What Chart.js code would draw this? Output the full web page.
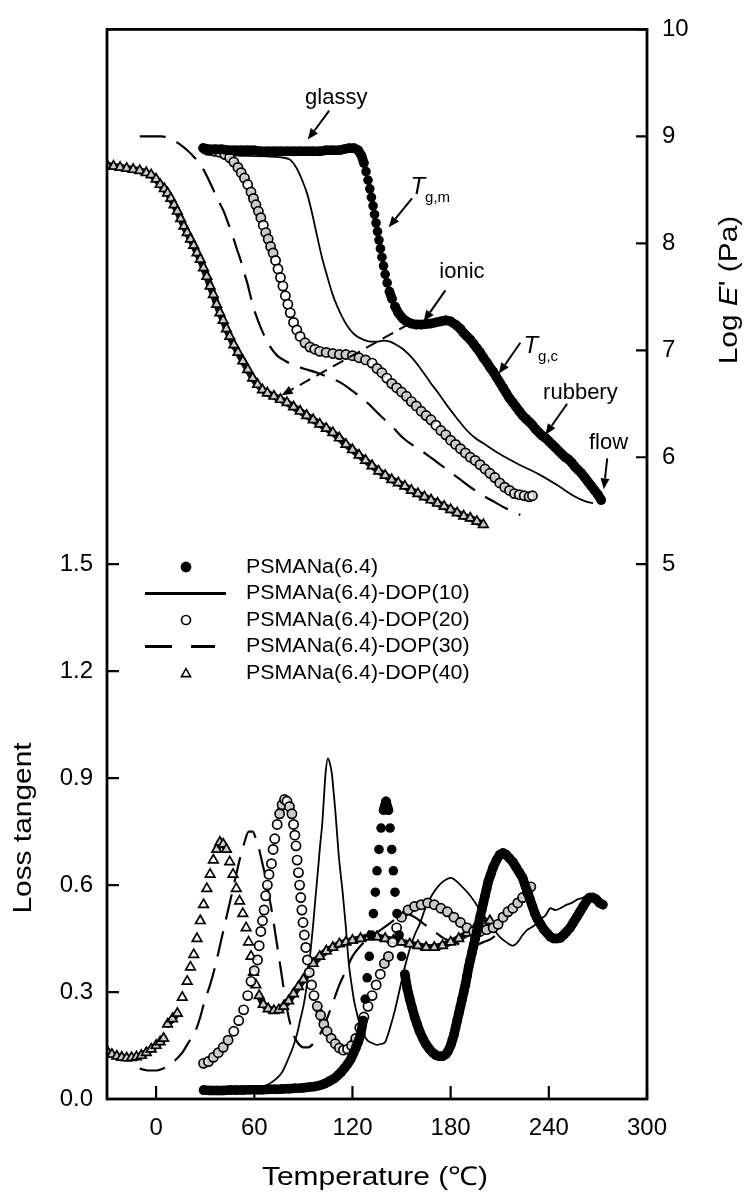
<!DOCTYPE html>
<html>
<head>
<meta charset="utf-8">
<script src="https://cdn.jsdelivr.net/npm/chart.js@4.4.0/dist/chart.umd.min.js"></script>
<style>
  html, body { margin: 0; padding: 0; background: #fff; }
  #wrap { position: relative; width: 745px; height: 1195px; }
</style>
</head>
<body>
<div id="wrap"><canvas id="dma"></canvas></div>
<script>
// samples, in legend order
const seriesNames = [
  "PSMANa(6.4)",
  "PSMANa(6.4)-DOP(10)",
  "PSMANa(6.4)-DOP(20)",
  "PSMANa(6.4)-DOP(30)",
  "PSMANa(6.4)-DOP(40)"
];

const tempTicks = [0, 60, 120, 180, 240, 300];
const tanTicks = [0, 0.3, 0.6, 0.9, 1.2, 1.5];
const modTicks = [5, 6, 7, 8, 9, 10];

// storage modulus: [temperature (°C), log E' (Pa)]
const modNeat = [[28.7,8.89],[32,8.88],[36,8.88],[40,8.88],[44,8.87],[48,8.87],[52,8.87],[56,8.87],[60,8.87],[64,8.86],[68,8.86],[72,8.86],[76,8.86],[80,8.86],[84,8.86],[88,8.86],[92,8.86],[96,8.86],[100,8.86],[104,8.87],[108,8.87],[112,8.87],[115,8.88],[118,8.89],[121,8.89],[123.5,8.87],[125.5,8.82],[127,8.75],[128.3,8.67],[129.5,8.59],[130.6,8.51],[131.6,8.43],[132.6,8.35],[133.5,8.27],[134.4,8.19],[135.3,8.11],[136.2,8.03],[137.1,7.95],[138,7.87],[139,7.79],[140,7.71],[141.2,7.63],[142.6,7.55],[144.2,7.48],[146,7.41],[148,7.35],[150.5,7.30],[153,7.27],[156,7.25],[159,7.24],[162,7.24],[165,7.245],[168,7.25],[171,7.26],[174,7.27],[177,7.28],[180,7.27],[183,7.24],[186,7.20],[188,7.16],[190,7.13],[192,7.10],[194,7.06],[196,7.02],[198,6.98],[200,6.93],[202,6.89],[204,6.84],[206,6.80],[208,6.75],[210,6.70],[212,6.65],[214,6.60],[216,6.55],[218,6.51],[220,6.47],[222,6.43],[224,6.39],[226,6.36],[228,6.33],[230,6.30],[232,6.26],[234,6.23],[236,6.20],[238,6.18],[240,6.15],[242,6.12],[244,6.09],[246,6.06],[248,6.03],[250,6.00],[252,5.98],[254,5.95],[256,5.91],[258,5.88],[260,5.85],[262,5.81],[264,5.77],[266,5.73],[268,5.69],[270,5.65],[272,5.60]];
const modDop10 = [[30,8.83],[50,8.82],[70,8.81],[78,8.80],[82,8.78],[86,8.70],[89,8.60],[92.4,8.46],[95.5,8.27],[98.5,8.06],[101.5,7.86],[104.6,7.69],[107.7,7.53],[110.7,7.41],[113.8,7.31],[116.8,7.23],[121,7.15],[126.6,7.10],[131,7.08],[135,7.08],[139,7.09],[143,7.08],[147,7.05],[151,7.01],[157,6.92],[163,6.80],[168,6.69],[172,6.61],[178,6.48],[184,6.36],[190,6.25],[195,6.18],[200,6.13],[210,6.03],[222,5.93],[234,5.84],[245,5.74],[255,5.64],[262,5.59],[267,5.57]];
const modDop20 = [[30,8.88],[33,8.87],[36,8.86],[39,8.85],[42,8.83],[45,8.80],[47.5,8.76],[50,8.71],[52,8.66],[54,8.61],[56,8.55],[58,8.48],[59.5,8.42],[61,8.36],[62.5,8.30],[64,8.24],[65.5,8.17],[67,8.10],[68.5,8.04],[70,7.97],[71.5,7.91],[73,7.84],[74.5,7.76],[76,7.68],[77.5,7.60],[79,7.51],[80.5,7.43],[82,7.35],[84,7.26],[86,7.19],[88,7.13],[91,7.07],[94,7.03],[97,7.01],[100,6.99],[104,6.98],[108,6.97],[112,6.96],[116,6.96],[120,6.95],[124,6.93],[128,6.91],[132,6.88],[135,6.83],[138,6.79],[141,6.74],[144,6.69],[147,6.65],[150,6.61],[153,6.57],[156,6.52],[159,6.48],[162,6.43],[165,6.39],[168,6.35],[171,6.30],[174,6.25],[177,6.21],[180,6.16],[183,6.12],[186,6.08],[189,6.04],[192,6.00],[195,5.97],[198,5.93],[201,5.89],[204,5.85],[207,5.81],[210,5.76],[213,5.72],[216,5.69],[219,5.66],[222,5.65],[225,5.64],[228,5.63],[230,5.64]];
const modDop30 = [[-10,9.0],[-3,9.0],[3,9.0],[7,8.99],[11,8.96],[15,8.92],[19,8.87],[23,8.81],[27,8.74],[31,8.63],[35,8.50],[38,8.40],[41,8.31],[44,8.19],[47,8.06],[49.5,7.94],[51.5,7.85],[53.5,7.74],[55.7,7.63],[57.5,7.52],[59.3,7.41],[62,7.29],[65.4,7.16],[69,7.05],[74,6.95],[79,6.90],[84,6.86],[90,6.83],[98.5,6.79],[105,6.75],[112.5,6.70],[120,6.62],[129,6.51],[137,6.39],[144,6.29],[151,6.18],[158,6.10],[165,6.03],[172,5.95],[179,5.87],[186,5.79],[193,5.71],[200,5.64],[207,5.58],[214,5.52],[222.6,5.46]];
const modDop40 = [[-30,8.73],[-26,8.72],[-22,8.71],[-18,8.70],[-14,8.69],[-10,8.68],[-6,8.66],[-3,8.64],[0,8.60],[2.5,8.55],[5,8.51],[7,8.47],[9,8.42],[11,8.36],[13,8.30],[15,8.23],[17,8.16],[19,8.10],[21,8.04],[23,7.98],[25,7.91],[27,7.85],[29,7.77],[31,7.69],[33,7.60],[35,7.52],[37,7.43],[39,7.35],[41,7.28],[43,7.20],[45,7.13],[47.5,7.05],[50,6.98],[53,6.90],[56,6.82],[59,6.74],[62,6.68],[65,6.63],[68,6.60],[72,6.57],[76,6.54],[80,6.51],[84,6.47],[88,6.43],[92,6.39],[96,6.35],[100,6.31],[104,6.27],[108,6.23],[112,6.18],[116,6.12],[120,6.07],[124,6.02],[128,5.97],[132,5.92],[136,5.87],[140,5.83],[144,5.79],[148,5.76],[152,5.73],[156,5.69],[160,5.66],[164,5.63],[168,5.60],[172,5.57],[176,5.54],[180,5.51],[184,5.48],[188,5.45],[192,5.43],[196,5.40],[200,5.37]];

// loss tangent: [temperature (°C), tan δ]
const tanNeat = [[29,0.025],[33,0.024],[37,0.024],[41,0.024],[45,0.025],[49,0.025],[53,0.025],[57,0.026],[61,0.026],[65,0.026],[69,0.027],[73,0.027],[77,0.028],[81,0.029],[85,0.03],[89,0.031],[93,0.033],[97,0.035],[100,0.038],[103,0.043],[106,0.05],[109,0.058],[111,0.066],[113,0.075],[115,0.086],[117,0.098],[119,0.112],[120.5,0.127],[122,0.143],[123.5,0.16],[125,0.18],[126.5,0.22],[127.8,0.28],[129,0.34],[130.3,0.40],[131.5,0.46],[132.8,0.52],[134,0.58],[135,0.64],[136.2,0.70],[137.5,0.76],[139,0.81],[140.5,0.835],[142,0.81],[143,0.76],[144,0.70],[145,0.64],[146,0.58],[147.2,0.52],[148.5,0.46],[150,0.40],[152,0.35],[153.5,0.31],[155,0.28],[156.5,0.255],[158,0.23],[159.5,0.21],[161,0.19],[163,0.17],[165,0.153],[167,0.14],[169,0.13],[171,0.123],[173,0.12],[175,0.12],[177,0.125],[178.5,0.135],[180,0.15],[181,0.165],[182,0.18],[183,0.2],[184,0.22],[185,0.24],[186,0.26],[187,0.28],[188,0.30],[189,0.32],[190,0.345],[191,0.37],[192,0.39],[193,0.41],[194,0.43],[195,0.45],[196,0.47],[197,0.49],[198,0.51],[199,0.53],[200,0.55],[201,0.57],[202,0.59],[203,0.61],[204.5,0.63],[206,0.65],[208,0.67],[210,0.685],[212,0.69],[214,0.685],[216,0.675],[218,0.665],[220,0.65],[222,0.635],[224,0.62],[225.5,0.6],[227,0.58],[228.5,0.56],[230,0.54],[231.5,0.52],[233,0.505],[235,0.49],[237,0.475],[239,0.465],[241,0.455],[243,0.45],[245,0.45],[247,0.452],[249,0.46],[251,0.47],[253,0.48],[255,0.495],[257,0.51],[259,0.525],[261,0.54],[263,0.555],[265,0.565],[267,0.565],[269,0.56],[271,0.55],[273,0.545]];
const tanDop10 = [[30,0.03],[45,0.03],[60,0.032],[68,0.04],[73,0.055],[77,0.075],[81,0.115],[84,0.15],[86,0.18],[88,0.22],[90,0.26],[91.5,0.30],[93,0.35],[94.5,0.42],[96,0.49],[97.5,0.57],[99,0.645],[100.2,0.71],[101.5,0.77],[102.5,0.84],[103.5,0.91],[105,0.955],[106.3,0.94],[107.5,0.91],[108.5,0.86],[109.5,0.81],[110.5,0.75],[111.5,0.69],[112.8,0.63],[114,0.58],[115,0.53],[116,0.48],[117,0.42],[118,0.37],[119.5,0.32],[121,0.275],[123,0.235],[125,0.20],[127,0.18],[129,0.165],[132,0.157],[135,0.152],[138,0.155],[140,0.16],[143,0.2],[146,0.25],[149,0.31],[152,0.37],[155,0.42],[158,0.46],[161,0.49],[165,0.54],[169,0.575],[173,0.60],[177,0.615],[180,0.62],[186,0.60],[192,0.57],[198,0.53],[204,0.49],[210,0.455],[214,0.44],[218,0.43],[221,0.44],[224,0.46],[227,0.475],[229,0.48],[232,0.49],[235,0.505],[238,0.515],[241,0.535],[244,0.53],[247,0.535],[251,0.545],[254,0.55],[257.5,0.56],[261,0.565],[264,0.575]];
const tanDop20 = [[29,0.10],[32,0.105],[35,0.117],[38,0.13],[41,0.145],[44,0.165],[47.5,0.19],[50.5,0.22],[53.5,0.25],[56,0.29],[58,0.33],[60,0.36],[62,0.39],[63,0.43],[64,0.47],[65,0.50],[66,0.53],[67,0.57],[68,0.60],[69,0.63],[70.5,0.66],[71.5,0.70],[72.5,0.73],[74,0.77],[75.5,0.80],[77,0.825],[78.5,0.84],[80,0.835],[81.5,0.82],[83,0.80],[84,0.77],[84.8,0.74],[85.5,0.71],[86.2,0.67],[87,0.635],[87.7,0.60],[88.4,0.565],[89.1,0.53],[89.8,0.495],[90.6,0.46],[91.5,0.425],[92.5,0.39],[93.6,0.355],[95,0.32],[96.5,0.29],[98.5,0.26],[100.5,0.235],[102.5,0.21],[104.5,0.19],[107,0.17],[109.5,0.155],[112,0.143],[114.5,0.137],[117,0.14],[119.5,0.15],[122,0.17],[124.5,0.20],[127,0.23],[129.5,0.26],[132,0.29],[134.5,0.32],[137,0.35],[139.5,0.38],[142,0.40],[144.5,0.44],[147,0.48],[150,0.51],[154,0.53],[158,0.54],[162,0.545],[166,0.55],[170,0.545],[174,0.535],[178,0.525],[182,0.51],[186,0.495],[190,0.48],[194,0.47],[198,0.47],[202,0.475],[206,0.48],[209,0.49],[212,0.51],[215,0.525],[218,0.535],[221,0.55],[224,0.565],[227,0.58],[229,0.595]];
const tanDop30 = [[-10,0.085],[-5,0.08],[0,0.08],[4,0.085],[8,0.095],[12,0.11],[16,0.13],[20,0.16],[24,0.19],[27,0.23],[30,0.28],[33,0.32],[36,0.37],[39,0.43],[42,0.49],[45,0.55],[48,0.61],[51,0.67],[54,0.72],[56.6,0.75],[59,0.75],[61,0.73],[63,0.70],[65,0.66],[67,0.62],[69,0.57],[71,0.52],[73,0.46],[75,0.40],[77,0.34],[79,0.28],[81,0.23],[84,0.18],[87,0.155],[90,0.145],[93,0.145],[96,0.155],[100,0.18],[104,0.22],[108,0.27],[112,0.32],[116,0.36],[120,0.40],[125,0.43],[130,0.45],[136,0.47],[142,0.49],[148,0.51],[153,0.52],[158,0.51],[164,0.49],[170,0.47],[176,0.45],[182,0.44],[188,0.43],[194,0.43],[200,0.44],[205,0.45],[210,0.47]];
const tanDop40 = [[-30,0.135],[-27,0.125],[-24,0.12],[-21,0.117],[-18,0.115],[-15,0.116],[-12,0.118],[-9,0.122],[-6,0.13],[-3,0.14],[0,0.15],[2.5,0.16],[4.6,0.17],[7,0.21],[10,0.225],[13,0.24],[16,0.285],[19,0.33],[21,0.37],[23,0.405],[25,0.45],[27,0.50],[29,0.545],[31,0.59],[33,0.63],[35,0.67],[37,0.70],[39,0.72],[41,0.715],[43,0.70],[45,0.665],[47,0.63],[49,0.59],[51,0.555],[53,0.52],[55,0.48],[56.5,0.44],[58,0.40],[59.5,0.355],[61,0.32],[63,0.29],[65.5,0.265],[68.5,0.253],[72,0.248],[75,0.25],[78,0.26],[81,0.275],[84,0.295],[87,0.315],[90,0.335],[93,0.355],[96,0.38],[100,0.40],[104,0.415],[108,0.425],[112,0.435],[116,0.44],[120,0.445],[125,0.45],[130,0.455],[135,0.455],[140,0.45],[145,0.445],[150,0.44],[155,0.435],[160,0.43],[165,0.425],[170,0.425],[175,0.43],[180,0.44],[185,0.45],[190,0.465],[195,0.48],[200,0.49],[204,0.50]];

// state labels on the modulus curves, anchored in data units (T, log E')
const stateNotes = [
  { text: "glassy", at: [110.1, 9.36], from: [105.8, 9.24], to: [92.7, 8.97] },
  { text: "ionic", at: [186.9, 7.735], from: [176.8, 7.56], to: [163.5, 7.27] },
  { text: "rubbery", at: [259.3, 6.60], from: [251.2, 6.50], to: [237.9, 6.21] },
  { text: "flow", at: [276.5, 6.13], from: [275.7, 5.99], to: [273.6, 5.70] }
];
const tgNotes = [
  { sub: "g,m", at: [155.4, 8.46], from: [156.4, 8.42], to: [142.1, 8.15] },
  { sub: "g,c", at: [224.5, 6.976], from: [222.6, 7.07], to: [209.4, 6.78] }
];
const ionicGuide = { from: [155, 7.25], to: [76.7, 6.58] };

const black = "#000";
const FONT = '"Liberation Sans", Arial, sans-serif';
Chart.defaults.font.family = FONT;
Chart.defaults.color = black;

function toPts(pairs) {
  return pairs.map(p => ({ x: p[0], y: p[1] }));
}

// join neighbouring markers with a band only where they crowd together
function bandWhereDense(limit, color) {
  return {
    borderColor: c => Math.hypot(c.p1.x - c.p0.x, c.p1.y - c.p0.y) > limit ? "rgba(0,0,0,0)" : color
  };
}

function filledSet(data, axis, limit) {
  return {
    data: toPts(data), yAxisID: axis, showLine: true,
    borderColor: black, borderWidth: 9.5, borderCapStyle: "round", borderJoinStyle: "round",
    pointRadius: 4.8, pointBackgroundColor: black, pointBorderWidth: 0,
    segment: bandWhereDense(limit, black)
  };
}

// hollow markers; the partly clear fill lets the crowded stretches read darker
function markerSet(data, axis, style, r, limit) {
  return {
    data: toPts(data), yAxisID: axis, showLine: true,
    borderColor: "#111", borderWidth: 7, borderCapStyle: "round", borderJoinStyle: "round",
    segment: bandWhereDense(limit, "#111"),
    pointStyle: style, pointRadius: r,
    pointBackgroundColor: "rgba(255,255,255,0.78)", pointBorderColor: black, pointBorderWidth: 1.7
  };
}

function lineSet(data, axis, dash) {
  return {
    data: toPts(data), yAxisID: axis, showLine: true,
    borderColor: black, borderWidth: dash ? 2.2 : 1.8, borderDash: dash || [],
    cubicInterpolationMode: "monotone", pointRadius: 0
  };
}

function arrow(ctx, x0, y0, x1, y1, dashed) {
  const ang = Math.atan2(y1 - y0, x1 - x0);
  const head = 11, half = 4.5;
  const bx = x1 - head * Math.cos(ang), by = y1 - head * Math.sin(ang);
  ctx.save();
  ctx.lineWidth = 2;
  if (dashed) ctx.setLineDash([12, 7]);
  ctx.beginPath();
  ctx.moveTo(x0, y0);
  ctx.lineTo(bx, by);
  ctx.stroke();
  ctx.setLineDash([]);
  ctx.beginPath();
  ctx.moveTo(x1, y1);
  ctx.lineTo(bx + half * Math.sin(ang), by - half * Math.cos(ang));
  ctx.lineTo(bx - half * Math.sin(ang), by + half * Math.cos(ang));
  ctx.closePath();
  ctx.fill();
  ctx.restore();
}

// text runs drawn side by side, slightly widened like the rest of the lettering
function drawRuns(ctx, runs, x, y, opt) {
  const o = Object.assign({ sx: 1, align: "left", rotate: 0, baseline: "alphabetic" }, opt);
  ctx.save();
  ctx.translate(x, y);
  if (o.rotate) ctx.rotate(o.rotate);
  ctx.scale(o.sx, 1);
  ctx.textBaseline = o.baseline;
  ctx.textAlign = "left";
  let total = 0;
  runs.forEach(r => { ctx.font = r.font; r.w = ctx.measureText(r.text).width; total += r.w; });
  let cx = o.align === "center" ? -total / 2 : 0;
  runs.forEach(r => { ctx.font = r.font; ctx.fillText(r.text, cx, r.dy || 0); cx += r.w; });
  ctx.restore();
}

const decorations = {
  id: "decorations",
  afterDraw(chart) {
    const { ctx, chartArea: a, scales } = chart;
    const sx = scales.x, st = scales.y, sm = scales.y1;
    const px = v => sx.getPixelForValue(v);
    const pm = v => sm.getPixelForValue(v);
    ctx.save();
    ctx.strokeStyle = black;
    ctx.fillStyle = black;

    // frame and inward ticks
    ctx.lineWidth = 2.8;
    ctx.strokeRect(a.left, a.top, a.right - a.left, a.bottom - a.top);
    ctx.lineWidth = 2.2;
    ctx.beginPath();
    tempTicks.forEach(v => { ctx.moveTo(px(v), a.bottom); ctx.lineTo(px(v), a.bottom - 13); });
    tanTicks.forEach(v => { const y = st.getPixelForValue(v); ctx.moveTo(a.left, y); ctx.lineTo(a.left + 12, y); });
    modTicks.forEach(v => { const y = pm(v); ctx.moveTo(a.right, y); ctx.lineTo(a.right - 11, y); });
    ctx.stroke();

    // axis titles
    const titleFont = "26px " + FONT;
    drawRuns(ctx, [{ text: "Temperature (\u2103)", font: titleFont }], 375, 1185, { sx: 1.15, align: "center" });
    drawRuns(ctx, [{ text: "Loss tangent", font: titleFont }], 31, 828, { sx: 1.15, align: "center", rotate: -Math.PI / 2 });
    drawRuns(ctx, [
      { text: "Log ", font: titleFont },
      { text: "E", font: "italic " + titleFont },
      { text: "' (Pa)", font: titleFont }
    ], 737, 290, { sx: 1.15, align: "center", rotate: -Math.PI / 2 });

    // legend
    const rowY = i => 567 + i * 26.5;
    const legFont = "20px " + FONT;
    seriesNames.forEach((name, i) => {
      drawRuns(ctx, [{ text: name, font: legFont }], 246, rowY(i), { sx: 1.07, baseline: "middle" });
    });
    ctx.lineWidth = 3;
    ctx.beginPath(); ctx.arc(186, rowY(0), 5.4, 0, Math.PI * 2); ctx.fill();
    ctx.beginPath(); ctx.moveTo(145, rowY(1)); ctx.lineTo(226, rowY(1)); ctx.stroke();
    ctx.lineWidth = 1.7;
    ctx.beginPath(); ctx.arc(186, rowY(2), 4.5, 0, Math.PI * 2); ctx.stroke();
    ctx.lineWidth = 3;
    ctx.beginPath();
    ctx.moveTo(145, rowY(3)); ctx.lineTo(172, rowY(3));
    ctx.moveTo(191, rowY(3)); ctx.lineTo(215, rowY(3));
    ctx.stroke();
    ctx.lineWidth = 1.6;
    const ty = rowY(4) + 1, tr = 5.3;
    ctx.beginPath();
    ctx.moveTo(186, ty - tr);
    ctx.lineTo(186 + tr * 0.866, ty + tr * 0.5);
    ctx.lineTo(186 - tr * 0.866, ty + tr * 0.5);
    ctx.closePath(); ctx.stroke();

    // state labels and their arrows
    const noteFont = "22px " + FONT;
    stateNotes.forEach(n => {
      drawRuns(ctx, [{ text: n.text, font: noteFont }], px(n.at[0]), pm(n.at[1]), { align: "center", baseline: "middle" });
      arrow(ctx, px(n.from[0]), pm(n.from[1]), px(n.to[0]), pm(n.to[1]));
    });
    tgNotes.forEach(n => {
      drawRuns(ctx, [
        { text: "T", font: "italic 24px " + FONT },
        { text: n.sub, font: "15px " + FONT, dy: 8 }
      ], px(n.at[0]), pm(n.at[1]));
      arrow(ctx, px(n.from[0]), pm(n.from[1]), px(n.to[0]), pm(n.to[1]));
    });
    arrow(ctx, px(ionicGuide.from[0]), pm(ionicGuide.from[1]), px(ionicGuide.to[0]), pm(ionicGuide.to[1]), true);

    ctx.restore();
  }
};

new Chart(document.getElementById("dma"), {
  type: "scatter",
  data: {
    datasets: [
      filledSet(modNeat, "y1", 8),
      filledSet(tanNeat, "y", 16),
      markerSet(modDop20, "y1", "circle", 4.6, 7),
      markerSet(tanDop20, "y", "circle", 4.6, 10),
      markerSet(modDop40, "y1", "triangle", 5.5, 12),
      markerSet(tanDop40, "y", "triangle", 5.5, 10),
      lineSet(modDop10, "y1"),
      lineSet(tanDop10, "y"),
      lineSet(modDop30, "y1", [26, 12]),
      lineSet(tanDop30, "y", [26, 12])
    ]
  },
  options: {
    responsive: true,
    maintainAspectRatio: false,
    animation: false,
    devicePixelRatio: 1,
    layout: { padding: { top: 21, left: 0, right: 0, bottom: 0 } },
    plugins: { legend: { display: false }, tooltip: { enabled: false } },
    scales: {
      x: {
        type: "linear", min: -30, max: 300,
        grid: { display: false, drawTicks: false }, border: { display: false },
        afterBuildTicks: s => { s.ticks = tempTicks.map(v => ({ value: v })); },
        afterFit: s => { s.height = 96; },
        ticks: { font: { size: 24 }, color: black, padding: 15, maxRotation: 0, autoSkip: false, callback: v => String(v) }
      },
      y: {
        position: "left", min: 0, max: 3,
        grid: { display: false, drawTicks: false }, border: { display: false },
        afterBuildTicks: s => { s.ticks = tanTicks.map(v => ({ value: v })); },
        afterFit: s => { s.width = 107; },
        ticks: { font: { size: 24 }, color: black, padding: 14, autoSkip: false, callback: v => v.toFixed(1) }
      },
      y1: {
        position: "right", min: 0, max: 10,
        grid: { display: false, drawTicks: false }, border: { display: false },
        afterBuildTicks: s => { s.ticks = modTicks.map(v => ({ value: v })); },
        afterFit: s => { s.width = 98; },
        ticks: { font: { size: 24 }, color: black, padding: 15, autoSkip: false, callback: v => String(v) }
      }
    }
  },
  plugins: [decorations]
});
</script>
</body>
</html>
